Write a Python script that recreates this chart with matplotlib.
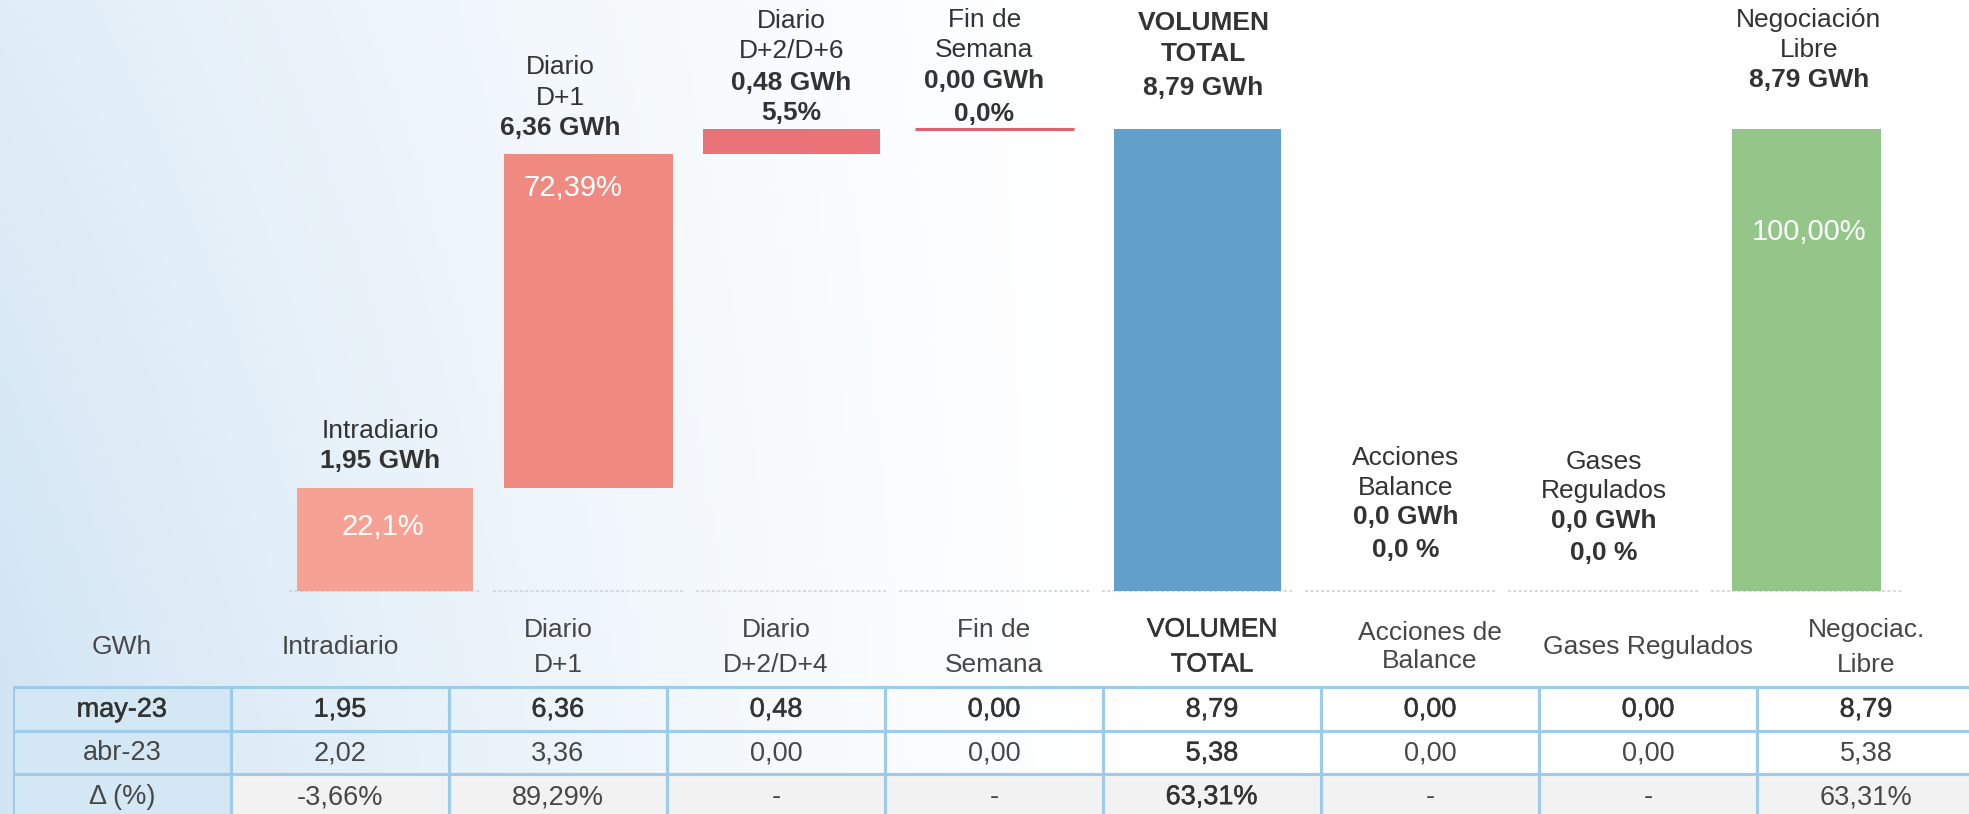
import numpy as np
import matplotlib.pyplot as plt
from matplotlib.patches import Rectangle
from matplotlib import patheffects as pe

plt.rcParams['font.family'] = ['Liberation Sans', 'DejaVu Sans']

# ======================
# DATOS
# ======================
categorias = ["Intradiario", "Diario\nD+1", "Diario\nD+2/D+6", "Fin de\nSemana",
              "VOLUMEN\nTOTAL", "Acciones\nBalance", "Gases\nRegulados", "Negociación\nLibre"]
valores = [1.95, 6.36, 0.48, 0.00, 8.79, 0.0, 0.0, 8.79]
etiq_gwh = ["1,95 GWh", "6,36 GWh", "0,48 GWh", "0,00 GWh", "8,79 GWh",
            "0,0 GWh", "0,0 GWh", "8,79 GWh"]
etiq_pct = ["22,1%", "72,39%", "5,5%", "0,0%", "", "0,0 %", "0,0 %", "100,00%"]
pct_dentro = [True, True, False, False, False, False, False, True]

cab_tabla = ["GWh", "Intradiario", "Diario\nD+1", "Diario\nD+2/D+4", "Fin de\nSemana",
             "VOLUMEN\nTOTAL", "Acciones de\nBalance", "Gases Regulados", "Negociac.\nLibre"]
filas = ["may-23", "abr-23", "Δ (%)"]
may23 = ["1,95", "6,36", "0,48", "0,00", "8,79", "0,00", "0,00", "8,79"]
abr23 = ["2,02", "3,36", "0,00", "0,00", "5,38", "0,00", "0,00", "5,38"]
delta = ["-3,66%", "89,29%", "-", "-", "63,31%", "-", "-", "63,31%"]

# ======================
# ESTILO
# ======================
colores = ["#F5A194", "#F08A80", "#EA737A", "#E0606E", "#629FCB", "none", "none", "#94C68A"]
anchos = [0.866, 0.832, 0.871, 0.783, 0.822, 0.9, 0.9, 0.733]
dx_etiq = [-5, -28, 0, -10, 6, 5, 0, 2]           # px
off_etiq = [[27.5, 57.5], [26, 56, 87], [16, 46, 78, 108], [15, 48, 79, 109],
            [41, 75, 106], [41, 74, 103, 133], [38, 70, 100, 129], [49, 79, 109]]
off_dentro = {0: (-2, 38.5), 1: (-15, 34), 7: (2, 103)}
TXT = "#333333"
BORDE = "#9DCBEC"

W, H = 1969, 814
fig = plt.figure(figsize=(W / 100, H / 100), dpi=100)

# fondo degradado
bg = fig.add_axes([0, 0, 1, 1], zorder=-10)
xx, yy = np.meshgrid(np.linspace(0, 1, 400), np.linspace(0, 1, 170))
f = np.clip(1 - xx / 0.58, 0, 1) ** 1.4 * (0.65 + 0.35 * yy)
azul = np.array([208, 228, 244]) / 255
img = 1 - f[..., None] * (1 - azul)
bg.imshow(img, aspect='auto', extent=[0, 1, 1, 0])
bg.set_xlim(0, 1)
bg.set_ylim(1, 0)
bg.axis('off')

# ======================
# CASCADA
# ======================
ax = fig.add_axes([0, 0, 1, 1])
ax.patch.set_alpha(0)
ax.set_xlim(-1.8947, 7.7977)
ax.set_ylim(-4.243, 11.244)
ax.axis('off')

x = np.arange(len(valores))
base = np.concatenate([np.cumsum([0] + valores[:3]), np.zeros(4)])
tops = base + np.array(valores)

for i in x:
    ax.hlines(0, i - 0.47, i + 0.47, colors="#D0D0D0", linestyles=(0, (2, 1.5)), lw=1.1, zorder=1)

ax.bar(x, valores, bottom=base, width=anchos, color=colores, zorder=2)
# linea fin de semana (valor cero)
ax.hlines(tops[3], 3 - anchos[3] / 2, 3 + anchos[3] / 2, colors=colores[3], lw=2.2, zorder=3)

k = 0.72  # px -> pt
for i in x:
    peso_cat = 'bold' if i == 4 else 'normal'
    lineas = [(t, peso_cat) for t in categorias[i].split("\n")] + [(etiq_gwh[i], 'bold')]
    if etiq_pct[i] and not pct_dentro[i]:
        lineas.append((etiq_pct[i], 'bold'))
    lineas = lineas[::-1]
    for (txt, peso), off in zip(lineas, off_etiq[i]):
        ax.annotate(txt, xy=(i, tops[i]), xytext=(dx_etiq[i] * k, off * k),
                    textcoords='offset points', ha='center', va='center',
                    fontsize=19, fontweight=peso, color=TXT)
    if pct_dentro[i]:
        ddx, ddy = off_dentro[i]
        ax.annotate(etiq_pct[i], xy=(i, tops[i]), xytext=(ddx * k, -ddy * k),
                    textcoords='offset points', ha='center', va='center',
                    fontsize=21, color='white')

# ======================
# TABLA
# ======================
axt = fig.add_axes([13 / W, 0, (W - 13) / W, 214 / H])
axt.patch.set_alpha(0)
axt.set_xlim(0, (W - 13) / 218)
axt.set_ylim(127 / 43.7, -87 / 43.7)
axt.axis('off')

medio = [pe.withStroke(linewidth=0.35, foreground="#333333")]
datos = [may23, abr23, delta]
for r in range(3):
    for c in range(9):
        if c == 0:
            fc = "#D4E7F5"
        elif r == 2:
            fc = "#F2F2F2"
        else:
            fc = "none"
        axt.add_patch(Rectangle((c, r), 1, 1, facecolor=fc, edgecolor=BORDE, lw=2.2, zorder=1))
        txt = filas[r] if c == 0 else datos[r][c - 1]
        negrita = (r == 0) or (c == 5)
        axt.text(c + 0.5, r + 0.52, txt, ha='center', va='center', fontsize=19.5,
                 color="#333333" if negrita else "#474747",
                 path_effects=medio if negrita else None, zorder=3)

for c, cab in enumerate(cab_tabla):
    ls = 1.2 if cab.startswith("Acciones") else 1.58
    negrita = c == 5
    axt.text(c + 0.5, -0.915, cab, ha='center', va='center', fontsize=19,
             linespacing=ls, color="#333333" if negrita else "#474747",
             path_effects=medio if negrita else None)

plt.savefig('out.png', dpi=100)
